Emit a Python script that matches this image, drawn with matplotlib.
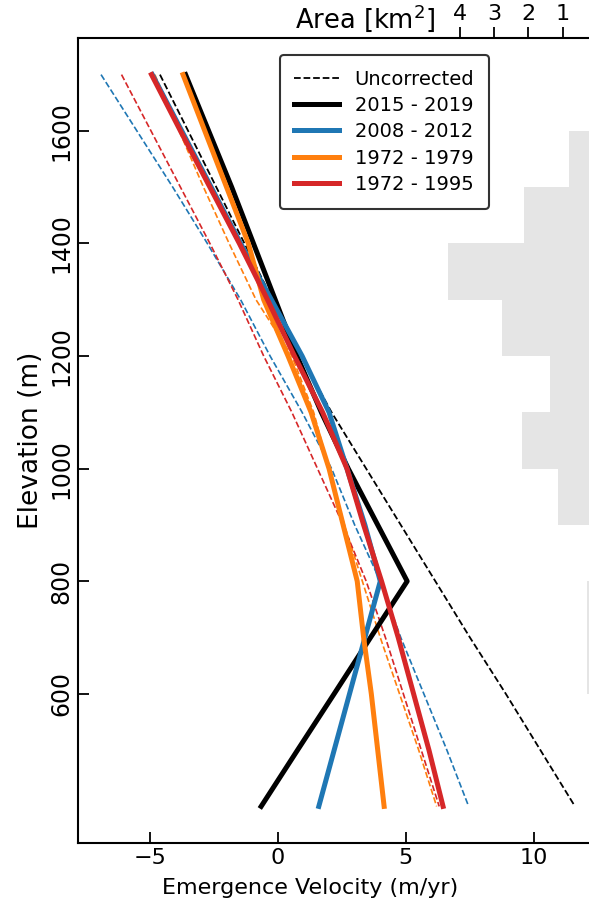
import numpy as np
import matplotlib.pyplot as plt

# elevation levels (m) shared by all emergence velocity profiles
elev = [1700, 1600, 1500, 1400, 1300, 1200, 1100, 1000, 900, 800, 700, 600, 500, 400]

# corrected emergence velocity (m/yr)
v_2015_2019 = [-3.6, -2.7, -1.8, -0.95, -0.1, 0.75, 1.7, 2.75, 3.9, 5.05, 3.62, 2.2, 0.77, -0.65]
v_2008_2012 = [-4.9, -3.75, -2.6, -1.45, -0.25, 0.95, 2.0, 2.7, 3.4, 4.0, 3.4, 2.8, 2.2, 1.6]
v_1972_1979 = [-3.7, -2.85, -2.0, -1.15, -0.55, 0.4, 1.3, 2.0, 2.55, 3.1, 3.35, 3.65, 3.9, 4.15]
v_1972_1995 = [-4.93, -3.8, -2.65, -1.5, -0.4, 0.65, 1.75, 2.7, 3.35, 4.05, 4.7, 5.3, 5.9, 6.45]

# uncorrected profiles
u_2015_2019 = [-4.6, -3.5, -2.4, -1.3, -0.2, 0.9, 2.1, 3.45, 4.8, 6.15, 7.5, 8.9, 10.25, 11.6]
u_2008_2012 = [-6.9, -5.5, -4.1, -2.75, -1.45, -0.3, 0.95, 2.1, 3.0, 4.0, 4.8, 5.7, 6.6, 7.45]
u_1972_1979 = [-4.8, -3.85, -2.9, -1.9, -0.85, 0.55, 1.4, 2.0, 2.6, 3.3, 4.0, 4.75, 5.5, 6.2]
u_1972_1995 = [-6.1, -4.95, -3.8, -2.65, -1.55, -0.55, 0.55, 1.55, 2.55, 3.45, 4.2, 4.9, 5.6, 6.3]

# glacier area per 100 m elevation band (km2)
band_mid = [650, 750, 850, 950, 1050, 1150, 1250, 1350, 1450, 1550, 1650]
band_area = [0.3, 0.3, 0.1, 1.14, 2.19, 1.37, 2.77, 4.34, 2.13, 0.82, 0.1]

c_black = 'black'
c_blue = '#1f77b4'
c_orange = '#ff7f0e'
c_red = '#d62728'

fig = plt.figure(figsize=(5.89, 9.01), dpi=100)
ax = fig.add_axes([0.1324, 0.0644, 0.8812, 0.8934])
ax2 = ax.twiny()

# hypsometry in the background
ax2.barh(band_mid, band_area, height=100, color='#e5e5e5', zorder=0)
ax2.set_xlim(15.13, 0)
ax2.set_xticks([4, 3, 2, 1])
ax2.tick_params(axis='x', direction='out', length=8, width=1.3, labelsize=16, pad=2)
for s in ax2.spines.values():
    s.set_visible(False)
fig.text(365 / 589, 1 - 18 / 901, 'Area [km$^2$]', ha='center', va='center', fontsize=18.5)

ax.set_zorder(ax2.get_zorder() + 1)
ax.patch.set_visible(False)

ax.plot(u_2015_2019, elev, '--', color=c_black, lw=1.3, label='Uncorrected')
ax.plot(u_2008_2012, elev, '--', color=c_blue, lw=1.2)
ax.plot(u_1972_1979, elev, '--', color=c_orange, lw=1.2)
ax.plot(u_1972_1995, elev, '--', color=c_red, lw=1.2)

ax.plot(v_2015_2019, elev, color=c_black, lw=3.6, label='2015 - 2019')
ax.plot(v_2008_2012, elev, color=c_blue, lw=3.6, label='2008 - 2012')
ax.plot(v_1972_1979, elev, color=c_orange, lw=3.6, label='1972 - 1979')
ax.plot(v_1972_1995, elev, color=c_red, lw=3.6, label='1972 - 1995')

ax.set_xlim(-7.8, 12.46)
ax.set_ylim(335, 1765)
ax.set_xticks([-5, 0, 5, 10])
ax.set_yticks([600, 800, 1000, 1200, 1400, 1600])
ax.tick_params(axis='both', direction='in', length=8, width=1.3, labelsize=16)
ax.tick_params(axis='y', labelrotation=90, labelsize=17)
for lab in ax.get_yticklabels():
    lab.set_va('center')
for s in ax.spines.values():
    s.set_linewidth(1.5)

ax.set_xlabel('Emergence Velocity (m/yr)', fontsize=16)
ax.xaxis.set_label_coords(0.447, -0.043)
ax.set_ylabel('Elevation (m)', fontsize=19, labelpad=4)

leg = ax.legend(loc='upper left', bbox_to_anchor=(0.389, 0.979), borderaxespad=0,
                fontsize=14, handlelength=2.3, labelspacing=0.38, borderpad=0.75,
                framealpha=1, fancybox=True)
leg.get_frame().set_edgecolor('#333333')
leg.get_frame().set_linewidth(1.5)

fig.savefig('out.png', dpi=100)
